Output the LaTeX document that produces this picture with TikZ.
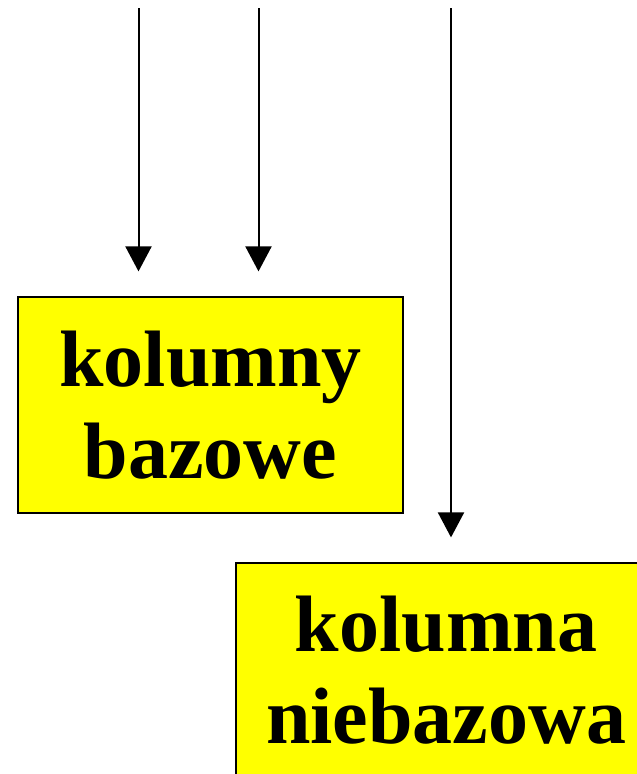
\documentclass[tikz,border=0pt]{standalone}
\usepackage{fontspec}
\setmainfont{Liberation Serif}
\usetikzlibrary{arrows.meta}
\definecolor{boxyellow}{RGB}{255,255,0}
\tikzset{
  labelbox/.style={draw=black, line width=1.2pt, fill=boxyellow, inner sep=0pt,
    align=center, font=\fontsize{80}{92}\selectfont\bfseries},
  feed/.style={line width=2pt, -{Triangle[length=25pt,width=26pt]}, shorten >=25pt}
}
\begin{document}
\begin{tikzpicture}[x=1pt,y=-1pt]
  \useasboundingbox (0,0) rectangle (637,774);
  \clip (0,0) rectangle (637,774);
  \fill[white] (0,0) rectangle (637,774);
  \node[labelbox, minimum width=385pt, minimum height=216pt] (box1) at (210.5,405) {kolumny\\bazowe};
  \node[labelbox, minimum width=420pt, minimum height=214pt] (box2) at (446,670) {kolumna\\niebazowa};
  \coordinate (s1) at (138.5,8);
  \coordinate (s2) at (258.5,8);
  \coordinate (s3) at (451,8);
  \draw[feed] (s1) -- (s1 |- box1.north);
  \draw[feed] (s2) -- (s2 |- box1.north);
  \draw[feed] (s3) -- (s3 |- box2.north);
\end{tikzpicture}
\end{document}
